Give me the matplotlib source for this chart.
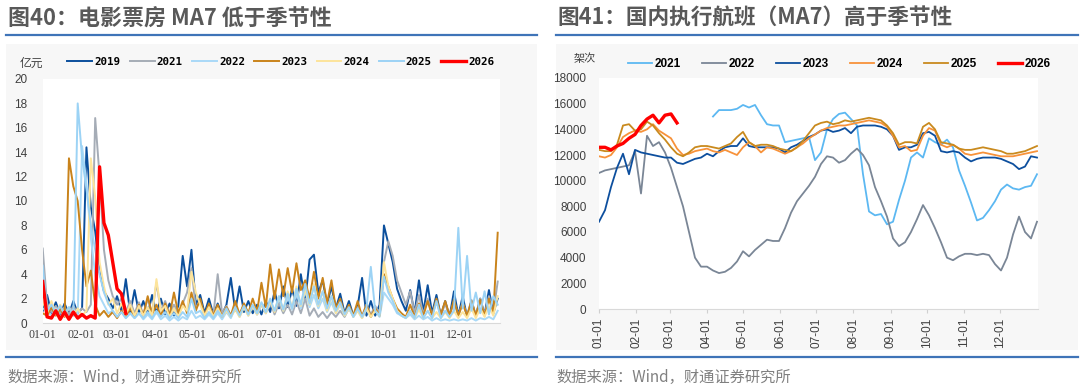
import numpy as np
import matplotlib
matplotlib.use('Agg')
import matplotlib.pyplot as plt
from matplotlib.lines import Line2D
from matplotlib.patches import Rectangle

plt.rcParams['font.family'] = ['Noto Sans CJK SC', 'DejaVu Sans']

# x axis: day of year, ticks at month starts
month_days = [0, 31, 59, 90, 120, 151, 181, 212, 243, 273, 304, 334]
month_labels = ['01-01', '02-01', '03-01', '04-01', '05-01', '06-01',
                '07-01', '08-01', '09-01', '10-01', '11-01', '12-01']

# ---- left: box office (亿元), sampled every half week ----
box_days = np.arange(105) * 3.5

box_2019 = [1.0, 2.3, 0.8, 1.7, 0.7, 1.6, 0.7,
            1.8, 0.8, 1.2, 14.4, 9.5, 7.5, 4.2,
            2.6, 2.0, 1.2, 2.2, 1.0, 3.6, 0.8,
            2.7, 0.8, 1.8, 0.7, 2.3, 0.8, 2.0,
            0.7, 1.6, 0.6, 1.4, 5.5, 3.0, 6.0,
            1.5, 2.3, 0.8, 2.0, 0.7, 1.6, 0.7,
            1.5, 3.7, 1.0, 3.0, 0.9, 1.8, 0.8,
            1.5, 0.7, 1.8, 0.9, 2.6, 1.2, 3.0,
            1.3, 2.8, 1.4, 4.0, 1.8, 5.2, 5.6,
            2.5, 3.5, 1.5, 3.0, 1.2, 2.4, 0.8,
            1.8, 0.6, 1.4, 3.7, 0.6, 1.8, 0.6,
            1.5, 8.0, 6.5, 5.0, 2.8, 1.8, 1.0,
            2.7, 0.8, 3.5, 0.9, 3.1, 0.8, 2.3,
            0.6, 1.8, 0.5, 2.6, 0.6, 2.2, 0.5,
            1.8, 0.6, 2.0, 0.7, 2.7, 0.8, 2.0]
box_2021 = [6.1, 1.5, 0.9, 1.4, 0.8, 1.3, 0.7,
            1.4, 0.8, 1.2, 0.9, 1.5, 16.8, 12.0,
            6.0, 3.5, 2.2, 1.5, 2.0, 0.9, 1.8,
            0.8, 1.7, 0.7, 2.0, 0.8, 3.3, 1.0,
            1.8, 0.7, 1.5, 0.8, 1.6, 2.5, 4.5,
            1.2, 1.8, 0.6, 1.5, 0.6, 4.0, 0.8,
            1.4, 0.6, 1.5, 0.6, 1.6, 0.7, 1.4,
            0.7, 1.5, 0.8, 1.8, 0.7, 1.6, 0.8,
            1.5, 0.7, 1.8, 0.8, 2.0, 0.6, 1.2,
            0.5, 0.9, 0.4, 0.9, 0.5, 1.0, 0.5,
            1.2, 0.6, 1.3, 0.6, 1.5, 0.7, 1.4,
            0.8, 5.0, 6.7, 5.5, 3.5, 2.5, 1.5,
            2.6, 0.8, 2.3, 0.7, 2.0, 0.6, 1.8,
            0.6, 1.6, 0.5, 1.8, 0.6, 1.7, 0.6,
            1.9, 0.6, 2.0, 0.7, 2.2, 0.8, 3.4]
box_2022 = [1.2, 1.0, 0.6, 1.2, 0.5, 1.0, 0.5,
            0.9, 0.6, 14.5, 11.5, 7.0, 4.0, 2.2,
            1.5, 0.8, 1.0, 0.5, 0.9, 0.4, 0.8,
            0.4, 0.8, 0.3, 0.7, 0.3, 0.9, 0.3,
            0.6, 0.2, 0.5, 0.2, 0.5, 0.3, 1.0,
            0.4, 0.6, 0.3, 0.7, 0.3, 0.8, 0.3,
            0.9, 0.4, 1.2, 0.5, 1.3, 0.6, 1.4,
            0.7, 1.6, 0.8, 1.8, 1.0, 2.0, 1.0,
            2.2, 1.1, 2.5, 1.2, 2.6, 1.3, 2.3,
            1.2, 2.0, 0.9, 1.7, 0.8, 1.5, 0.6,
            1.2, 0.5, 1.0, 0.4, 1.1, 0.5, 1.0,
            0.5, 2.5, 2.0, 1.5, 0.8, 0.6, 0.4,
            0.7, 0.3, 0.6, 0.3, 0.5, 0.2, 0.4,
            0.2, 0.3, 0.2, 0.3, 0.2, 0.3, 0.2,
            0.4, 0.2, 0.4, 0.3, 0.5, 0.3, 1.0]
box_2023 = [0.8, 0.6, 1.3, 0.6, 1.2, 0.5, 13.5,
            11.2, 10.0, 6.0, 3.0, 4.3, 1.5, 0.6,
            1.0, 0.5, 0.9, 0.4, 1.0, 0.5, 1.2,
            0.5, 1.5, 0.6, 2.2, 0.7, 1.5, 0.6,
            1.6, 0.6, 2.5, 0.8, 1.8, 0.8, 2.5,
            1.0, 2.0, 0.6, 1.6, 0.6, 1.5, 0.5,
            1.3, 0.6, 1.8, 0.7, 1.6, 0.8, 2.0,
            0.9, 3.3, 1.3, 4.8, 2.0, 4.4, 2.2,
            4.5, 2.5, 4.9, 2.7, 3.5, 2.0, 4.2,
            2.0, 3.7, 1.6, 3.5, 1.2, 2.0, 0.7,
            1.5, 0.6, 1.8, 0.5, 1.5, 0.5, 1.2,
            0.6, 4.0, 3.0, 2.0, 1.2, 0.8, 0.5,
            1.5, 0.5, 1.6, 0.6, 1.8, 0.6, 2.0,
            0.7, 1.8, 0.6, 1.9, 0.6, 1.6, 0.6,
            1.8, 0.6, 1.9, 0.6, 2.0, 0.8, 7.4]
box_2024 = [1.8, 0.8, 1.8, 0.7, 1.5, 0.6, 1.3,
            0.6, 1.2, 0.6, 1.0, 13.5, 10.3, 5.0,
            3.0, 1.5, 2.0, 0.8, 1.6, 0.7, 1.5,
            0.6, 1.4, 0.6, 1.3, 0.6, 3.6, 1.0,
            1.4, 0.5, 1.2, 0.5, 1.4, 1.0, 4.2,
            2.5, 1.5, 0.6, 1.3, 0.5, 1.2, 0.5,
            1.0, 0.5, 1.1, 0.5, 1.3, 0.6, 1.4,
            0.7, 1.6, 0.8, 1.8, 0.9, 2.2, 1.0,
            2.6, 1.2, 3.0, 1.4, 2.8, 1.5, 3.2,
            1.4, 2.6, 1.0, 2.2, 0.8, 1.6, 0.6,
            1.2, 0.5, 1.0, 0.4, 1.2, 0.5, 1.0,
            0.6, 5.0, 3.0, 2.0, 1.0, 0.6, 0.4,
            1.0, 0.4, 1.1, 0.4, 1.0, 0.4, 0.9,
            0.4, 0.9, 0.4, 1.0, 0.4, 0.9, 0.4,
            1.2, 0.4, 1.2, 0.5, 1.4, 0.6, 2.2]
box_2025 = [4.7, 1.0, 1.5, 0.8, 1.4, 0.7, 1.3,
            0.6, 18.0, 13.5, 11.0, 8.0, 6.0, 4.0,
            2.5, 1.6, 1.0, 0.5, 0.9, 0.4, 0.8,
            0.4, 0.8, 0.4, 0.9, 0.4, 1.0, 0.5,
            0.9, 0.4, 0.8, 0.4, 0.9, 0.5, 2.0,
            0.8, 1.0, 0.4, 0.9, 0.4, 1.0, 0.5,
            1.2, 0.5, 1.3, 0.6, 1.4, 0.7, 1.5,
            0.8, 1.7, 0.9, 2.0, 1.0, 2.2, 1.1,
            2.4, 1.2, 2.8, 1.5, 3.2, 1.6, 3.0,
            1.5, 2.6, 1.2, 2.2, 1.0, 1.7, 0.7,
            1.3, 0.5, 1.2, 0.5, 1.2, 4.6, 1.0,
            0.6, 3.8, 2.5, 1.8, 0.9, 0.6, 0.4,
            1.0, 0.4, 1.5, 0.4, 1.0, 0.4, 1.8,
            0.4, 1.0, 0.5, 1.0, 7.8, 1.2, 5.5,
            1.0, 2.5, 0.8, 2.6, 0.7, 2.2, 1.5]
box_2026 = [3.4, 0.5, 0.4, 1.0, 0.3, 0.9, 0.3,
            0.9, 0.4, 0.7, 0.4, 0.6, 0.4, 12.8,
            8.2, 7.2, 5.0, 2.8, 2.4, 0.8]

box_years = ['2019', '2021', '2022', '2023', '2024', '2025', '2026']
box_series = [box_2019, box_2021, box_2022, box_2023, box_2024, box_2025, box_2026]
box_colors = ['#0b4f9c', '#a5acb6', '#a9d9f7', '#c9831b', '#fde49b', '#9cd3f5', '#ff0000']

# ---- right: domestic flights MA7 (架次), every 5 days ----
fl_days = np.arange(0, 366, 5)
nan = np.nan

fl_2021 = [nan] * 19 + [
    15000, 15500, 15500, 15500, 15600, 15900, 15700, 15900, 15100, 14400,
    14300, 14300, 13000, 13100, 13200, 13300, 13400, 11600, 12200, 14000,
    14800, 15200, 15300, 14800, 14300, 10500, 7600, 7300, 7400, 6600,
    6800, 8500, 10000, 11800, 12200, 11800, 13300, 13000, 12800, 13200,
    12600, 10800, 9600, 8300, 6900, 7100, 7700, 8400, 9300, 9700,
    9400, 9300, 9500, 9600, 10500]
fl_2022 = [10600, 10800, 10900, 11000, 11100, 11200, 12300, 9000, 13500, 12700,
           13000, 12200, 11000, 9500, 8000, 6000, 4000, 3300, 3300, 3000,
           2800, 2900, 3200, 3700, 4500, 4100, 4600, 5000, 5400, 5300,
           5300, 6300, 7500, 8400, 9000, 9600, 10300, 11300, 11900, 11800,
           11400, 11600, 12100, 12500, 12000, 11200, 9500, 8400, 7200, 5500,
           4900, 5200, 6000, 7000, 8100, 7300, 6300, 5200, 4000, 3800,
           4100, 4300, 4300, 4200, 4300, 4200, 3500, 3000, 4000, 5800,
           7200, 6000, 5500, 6800]
fl_2023 = [6800, 7700, 9500, 11000, 12100, 10500, 12400, 12200, 12100, 12000,
           11900, 11800, 11800, 11400, 11300, 11500, 11700, 11800, 12100, 11900,
           12300, 12600, 12700, 12700, 13300, 12700, 12600, 12600, 12600, 12600,
           12500, 12200, 12600, 12800, 13100, 13400, 13600, 13900, 14000, 13800,
           13900, 14100, 13700, 14200, 14300, 14300, 14300, 14200, 14000, 13500,
           12400, 12600, 12600, 12800, 13700, 13800, 13500, 12300, 12200, 12300,
           12200, 11800, 11500, 11700, 11800, 11800, 11800, 11700, 11500, 11300,
           10900, 11100, 11900, 11800]
fl_2024 = [11900, 11800, 12000, 12600, 13400, 13700, 13900, 13800, 14000, 14400,
           13900, 13600, 13300, 12500, 12000, 12100, 12300, 12400, 12500, 12300,
           12200, 12400, 12200, 12000, 12600, 13000, 12700, 12200, 12600, 12500,
           12300, 12100, 12300, 12600, 12900, 13300, 13600, 13900, 14100, 14200,
           14300, 14300, 14400, 14500, 14600, 14700, 14600, 14500, 14200, 13500,
           12600, 12700, 12300, 12400, 13500, 14100, 13900, 12800, 12600, 12800,
           12500, 12100, 12000, 12100, 12200, 12100, 12000, 11900, 11900, 11900,
           12000, 12100, 12200, 12300]
fl_2025 = [12400, 12300, 12300, 12800, 14300, 14400, 13900, 14000, 14600, 14300,
           13700, 13200, 12600, 12100, 11900, 12200, 12600, 12700, 12700, 12600,
           12500, 12700, 12900, 13400, 13800, 13000, 12700, 12800, 12800, 12700,
           12500, 12400, 12300, 12600, 13100, 13700, 14300, 14500, 14600, 14400,
           14500, 14700, 14600, 14700, 14800, 14900, 14800, 14700, 14300, 13700,
           12800, 13000, 13000, 12900, 14200, 14500, 14000, 13000, 12900, 12800,
           12500, 12400, 12400, 12500, 12600, 12500, 12400, 12300, 12100, 12100,
           12200, 12300, 12500, 12700]
fl_2026 = [12600, 12600, 12400, 12700, 12900, 13300, 13600, 14300, 14800, 15100,
           14500, 15100, 15200, 14500] + [nan] * 60

fl_years = ['2021', '2022', '2023', '2024', '2025', '2026']
fl_series = [fl_2021, fl_2022, fl_2023, fl_2024, fl_2025, fl_2026]
fl_colors = ['#5cb8f2', '#7a8696', '#0d4f9e', '#f7923a', '#c98a1e', '#ff0000']

W, H = 1080, 387
fig = plt.figure(figsize=(10.8, 3.87), dpi=100)
fig.patch.set_facecolor('white')


def fx(px):
    return px / W


def fy(py):
    return 1 - py / H


# panel backgrounds, header and footer rules
for x0, x1 in [(6, 537), (556, 1078)]:
    fig.add_artist(Rectangle((fx(x0), fy(350)), fx(x1 - x0), (350 - 44) / H,
                             transform=fig.transFigure, facecolor='#f7f7f7',
                             edgecolor='none', zorder=0))
    fig.add_artist(Line2D([fx(x0), fx(x1)], [fy(35), fy(35)], color='#3f74b8', lw=1.6))
    fig.add_artist(Line2D([fx(x0), fx(x1)], [fy(357), fy(357)], color='#3f74b8', lw=1.6))

fig.text(fx(8), fy(18), '图40：电影票房 MA7 低于季节性', fontsize=15.8, fontweight='bold',
         color='#595959', va='center', ha='left')
fig.text(fx(557), fy(18), '图41：国内执行航班（MA7）高于季节性', fontsize=15.6, fontweight='bold',
         color='#595959', va='center', ha='left')
fig.text(fx(7), fy(377), '数据来源：Wind，财通证券研究所', fontsize=11, color='#808080',
         va='center', ha='left')
fig.text(fx(556), fy(377), '数据来源：Wind，财通证券研究所', fontsize=11, color='#808080',
         va='center', ha='left')

# ---- left chart ----
axL = fig.add_axes([fx(42.7), fy(323), 366 * 1.25 / W, (323 - 79) / H])
axL.set_facecolor('white')
for yr, vals, c in zip(box_years, box_series, box_colors):
    lw = 2.4 if yr == '2026' else 1.4
    axL.plot(box_days[:len(vals)], vals, color=c, lw=lw, label=yr,
             zorder=5 if yr == '2026' else 2)
axL.set_xlim(0, 366)
axL.set_ylim(0, 20)
axL.set_yticks(range(0, 21, 2))
axL.set_xticks(month_days)
axL.set_xticklabels(month_labels, fontfamily='Liberation Serif', fontsize=8.5, color='#404040')
axL.tick_params(axis='y', length=0, pad=11, labelsize=8.5, labelcolor='#404040')
axL.tick_params(axis='x', length=0, pad=4)
for s in ['top', 'right', 'left']:
    axL.spines[s].set_visible(False)
axL.spines['bottom'].set_color('#d9d9d9')
for t in axL.get_yticklabels():
    t.set_fontfamily('Liberation Sans')
fig.text(fx(20), fy(63), '亿元', fontsize=8.5, color='#404040', va='center', ha='left')
fig.legend(*axL.get_legend_handles_labels(), loc='center left',
           bbox_to_anchor=(fx(63), fy(62)), ncol=7, frameon=False,
           prop={'family': 'DejaVu Sans Mono', 'weight': 'bold', 'size': 7.8},
           handlelength=2.3, handletextpad=0.2, columnspacing=0.85, borderaxespad=0)

# ---- right chart ----
axR = fig.add_axes([fx(599), fy(309), 366 * 1.2 / W, (309 - 78) / H])
axR.set_facecolor('white')
for yr, vals, c in zip(fl_years, fl_series, fl_colors):
    lw = 2.4 if yr == '2026' else 1.3
    axR.plot(fl_days, vals, color=c, lw=lw, label=yr, zorder=5 if yr == '2026' else 2)
axR.set_xlim(0, 366)
axR.set_ylim(0, 18000)
axR.set_yticks(range(0, 18001, 2000))
axR.set_xticks(month_days)
axR.set_xticklabels(month_labels, rotation=90, fontfamily='Liberation Sans', fontsize=8.5,
                    color='#404040')
axR.tick_params(axis='y', length=0, pad=9, labelsize=8.5, labelcolor='#404040')
axR.tick_params(axis='x', length=3, color='#d0d0d0', pad=3)
for s in ['top', 'right', 'left']:
    axR.spines[s].set_visible(False)
axR.spines['bottom'].set_color('#d9d9d9')
for t in axR.get_yticklabels():
    t.set_fontfamily('Liberation Sans')
fig.text(fx(574), fy(59), '架次', fontsize=8, color='#404040', va='center', ha='left')
fig.legend(*axR.get_legend_handles_labels(), loc='center left',
           bbox_to_anchor=(fx(623), fy(64)), ncol=6, frameon=False,
           prop={'family': 'Liberation Sans', 'weight': 'bold', 'size': 8.5},
           handlelength=2.05, handletextpad=0.25, columnspacing=1.75, borderaxespad=0)

fig.savefig('out.png', dpi=100, facecolor='white')
